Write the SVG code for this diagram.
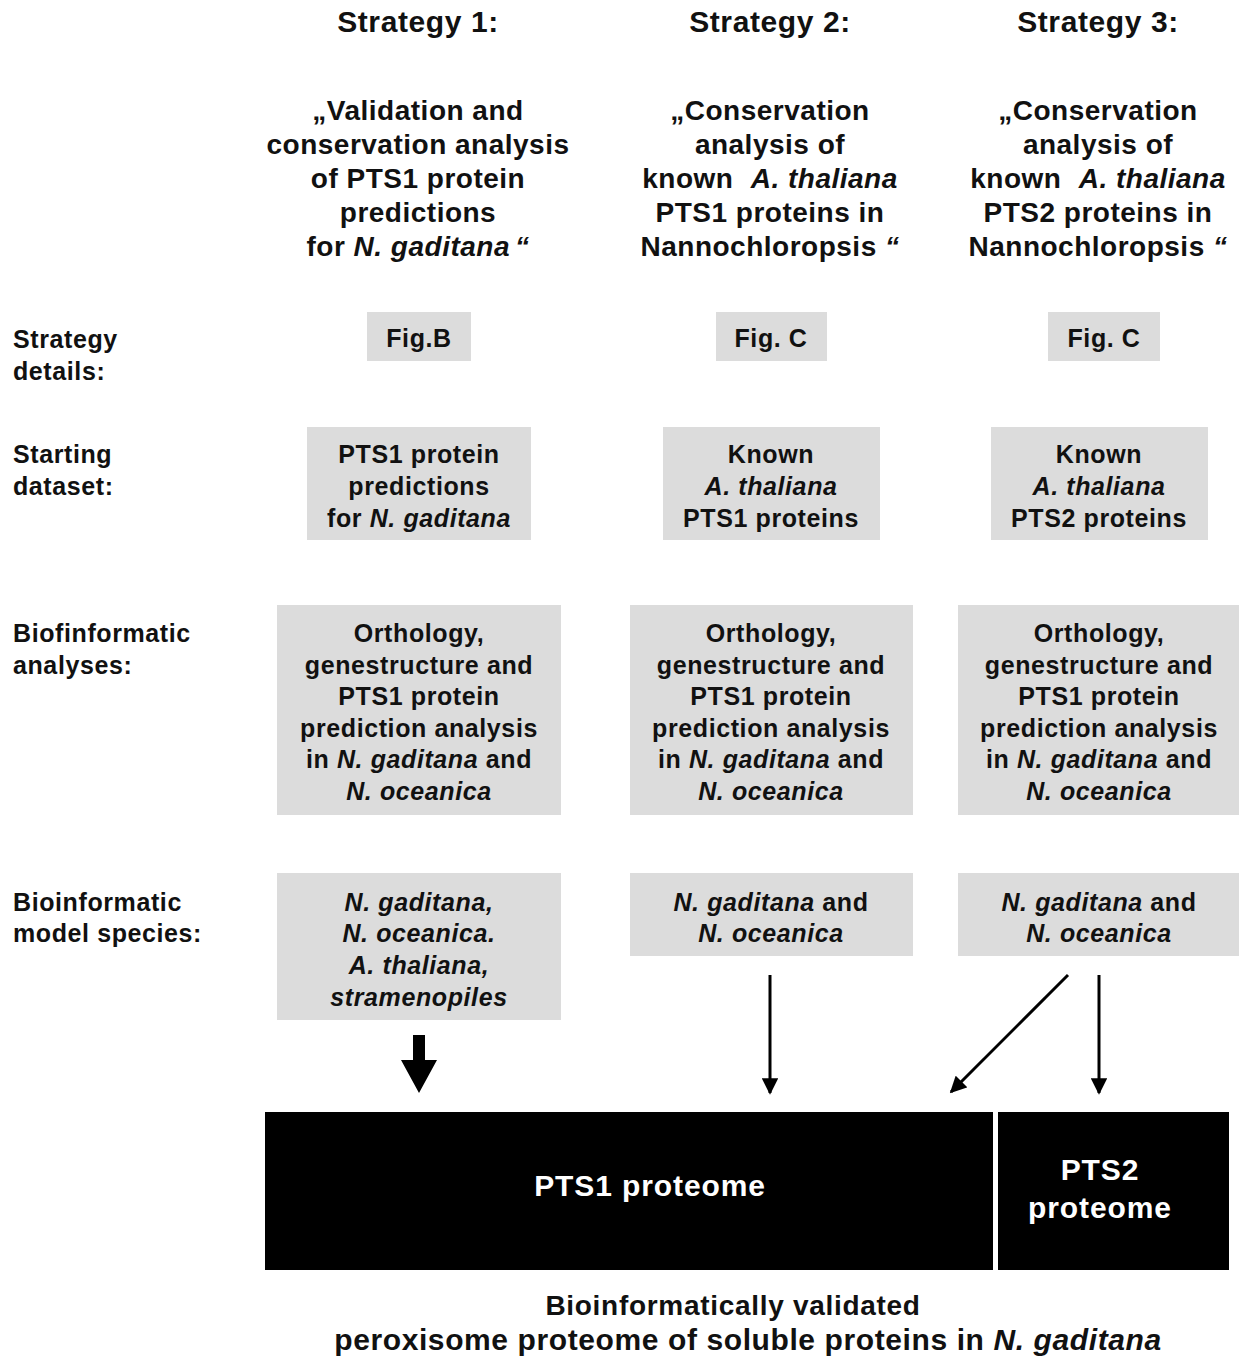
<svg xmlns="http://www.w3.org/2000/svg" width="1239" height="1358" viewBox="0 0 1239 1358">
<defs>
<style>
text{font-family:"Liberation Sans",Arial,sans-serif;font-weight:bold;fill:#111;}
.h{font-size:30px;text-anchor:middle;letter-spacing:0.6px;}
.s{font-size:28px;text-anchor:middle;letter-spacing:0.5px;}
.l{font-size:25px;letter-spacing:0.6px;}
.b{font-size:25px;text-anchor:middle;letter-spacing:0.6px;}
.w{fill:#fff;font-size:30px;text-anchor:middle;letter-spacing:0.9px;}
.f1{font-size:28px;text-anchor:middle;letter-spacing:0.7px;}
.f2{font-size:30px;text-anchor:middle;letter-spacing:0.6px;}
.i{font-style:italic;}
.box{fill:#dcdcdc;}
.blk{fill:#000;}
.ln{stroke:#000;stroke-width:3;fill:none;}
</style>
<marker id="ah" viewBox="0 0 10 10" refX="9" refY="5" markerWidth="5.5" markerHeight="5.5" markerUnits="strokeWidth" orient="auto">
<path d="M0,0 L10,5 L0,10 z" fill="#000"/>
</marker>
</defs>
<rect width="1239" height="1358" fill="#fff"/>

<g id="headings">
<text class="h" x="418" y="32">Strategy 1:</text>
<text class="h" x="770" y="32">Strategy 2:</text>
<text class="h" x="1098" y="32">Strategy 3:</text>
</g>

<g id="strategy1-title">
<text class="s" x="418" y="120">„Validation and</text>
<text class="s" x="418" y="154">conservation analysis</text>
<text class="s" x="418" y="188">of PTS1 protein</text>
<text class="s" x="418" y="222">predictions</text>
<text class="s" x="418" y="256">for <tspan class="i">N. gaditana</tspan><tspan class="i" dx="5">“</tspan></text>
</g>
<g id="strategy2-title">
<text class="s" x="770" y="120">„Conservation</text>
<text class="s" x="770" y="154">analysis of</text>
<text class="s" x="770" y="188">known <tspan class="i" dx="9">A. thaliana</tspan></text>
<text class="s" x="770" y="222">PTS1 proteins in</text>
<text class="s" x="770" y="256">Nannochloropsis <tspan class="i">“</tspan></text>
</g>
<g id="strategy3-title">
<text class="s" x="1098" y="120">„Conservation</text>
<text class="s" x="1098" y="154">analysis of</text>
<text class="s" x="1098" y="188">known <tspan class="i" dx="9">A. thaliana</tspan></text>
<text class="s" x="1098" y="222">PTS2 proteins in</text>
<text class="s" x="1098" y="256">Nannochloropsis <tspan class="i">“</tspan></text>
</g>

<g id="row-labels">
<text class="l" x="13" y="348">Strategy</text>
<text class="l" x="13" y="380">details:</text>
<text class="l" x="13" y="463">Starting</text>
<text class="l" x="13" y="495">dataset:</text>
<text class="l" x="13" y="642">Biofinformatic</text>
<text class="l" x="13" y="674">analyses:</text>
<text class="l" x="13" y="911">Bioinformatic</text>
<text class="l" x="13" y="942">model species:</text>
</g>

<g id="fig1"><rect class="box" x="367" y="312" width="104" height="49"/><text class="b" x="419" y="347">Fig.B</text></g>
<g id="fig2"><rect class="box" x="716" y="312" width="111" height="49"/><text class="b" x="771" y="347">Fig. C</text></g>
<g id="fig3"><rect class="box" x="1048" y="312" width="112" height="49"/><text class="b" x="1104" y="347">Fig. C</text></g>

<g id="start1"><rect class="box" x="307" y="427" width="224" height="113"/>
<text class="b" x="419" y="463">PTS1 protein</text>
<text class="b" x="419" y="495">predictions</text>
<text class="b" x="419" y="527">for <tspan class="i">N. gaditana</tspan></text></g>
<g id="start2"><rect class="box" x="663" y="427" width="217" height="113"/>
<text class="b" x="771" y="463">Known</text>
<text class="b i" x="771" y="495">A. thaliana</text>
<text class="b" x="771" y="527">PTS1 proteins</text></g>
<g id="start3"><rect class="box" x="991" y="427" width="217" height="113"/>
<text class="b" x="1099" y="463">Known</text>
<text class="b i" x="1099" y="495">A. thaliana</text>
<text class="b" x="1099" y="527">PTS2 proteins</text></g>

<g id="analysis1"><rect class="box" x="277" y="605" width="284" height="210"/>
<text class="b" x="419" y="642">Orthology,</text>
<text class="b" x="419" y="674">genestructure and</text>
<text class="b" x="419" y="705">PTS1 protein</text>
<text class="b" x="419" y="737">prediction analysis</text>
<text class="b" x="419" y="768">in <tspan class="i">N. gaditana</tspan> and</text>
<text class="b i" x="419" y="800">N. oceanica</text></g>
<g id="analysis2"><rect class="box" x="630" y="605" width="283" height="210"/>
<text class="b" x="771" y="642">Orthology,</text>
<text class="b" x="771" y="674">genestructure and</text>
<text class="b" x="771" y="705">PTS1 protein</text>
<text class="b" x="771" y="737">prediction analysis</text>
<text class="b" x="771" y="768">in <tspan class="i">N. gaditana</tspan> and</text>
<text class="b i" x="771" y="800">N. oceanica</text></g>
<g id="analysis3"><rect class="box" x="958" y="605" width="281" height="210"/>
<text class="b" x="1099" y="642">Orthology,</text>
<text class="b" x="1099" y="674">genestructure and</text>
<text class="b" x="1099" y="705">PTS1 protein</text>
<text class="b" x="1099" y="737">prediction analysis</text>
<text class="b" x="1099" y="768">in <tspan class="i">N. gaditana</tspan> and</text>
<text class="b i" x="1099" y="800">N. oceanica</text></g>

<g id="species1"><rect class="box" x="277" y="873" width="284" height="147"/>
<text class="b i" x="419" y="911">N. gaditana,</text>
<text class="b i" x="419" y="942">N. oceanica.</text>
<text class="b i" x="419" y="974">A. thaliana,</text>
<text class="b i" x="419" y="1006">stramenopiles</text></g>
<g id="species2"><rect class="box" x="630" y="873" width="283" height="83"/>
<text class="b" x="771" y="911"><tspan class="i">N. gaditana</tspan> and</text>
<text class="b i" x="771" y="942">N. oceanica</text></g>
<g id="species3"><rect class="box" x="958" y="873" width="281" height="83"/>
<text class="b" x="1099" y="911"><tspan class="i">N. gaditana</tspan> and</text>
<text class="b i" x="1099" y="942">N. oceanica</text></g>

<g id="pts1"><rect class="blk" x="265" y="1112" width="728" height="158"/>
<text class="w" x="650" y="1196">PTS1 proteome</text></g>
<g id="pts2"><rect class="blk" x="998" y="1112" width="231" height="158"/>
<text class="w" x="1100" y="1180">PTS2</text>
<text class="w" x="1100" y="1218">proteome</text></g>

<g id="connectors">
<path d="M413,1035 H425 V1060 H437 L419,1093 L401,1060 H413 Z" fill="#000"/>
<line class="ln" x1="770" y1="975" x2="770" y2="1093" marker-end="url(#ah)"/>
<line class="ln" x1="1068" y1="975" x2="951" y2="1092" marker-end="url(#ah)"/>
<line class="ln" x1="1099" y1="975" x2="1099" y2="1093" marker-end="url(#ah)"/>
</g>

<g id="footer">
<text class="f1" x="733" y="1315">Bioinformatically validated</text>
<text class="f2" x="748" y="1350">peroxisome proteome of soluble proteins in <tspan class="i">N. gaditana</tspan></text>
</g>
</svg>
